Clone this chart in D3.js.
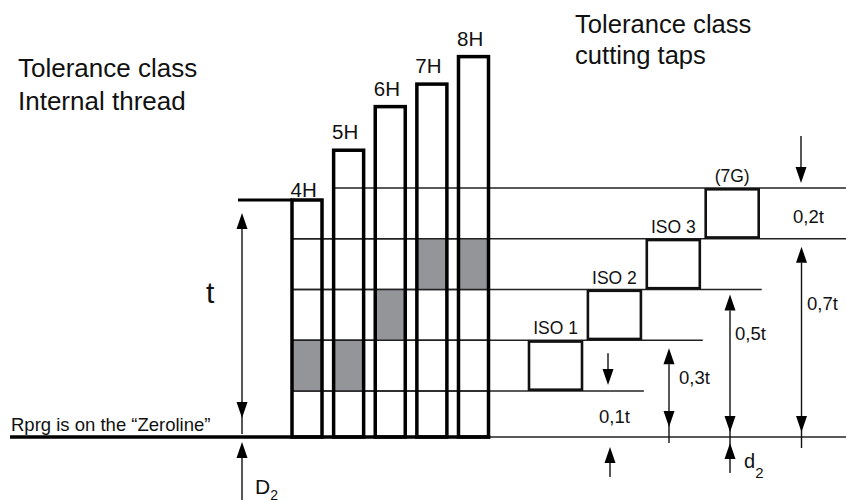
<!DOCTYPE html>
<html>
<head>
<meta charset="utf-8">
<script src="https://cdn.jsdelivr.net/npm/d3@7"></script>
<style>
  body { margin: 0; background: #fff; }
  text { font-family: "Liberation Sans", Arial, sans-serif; fill: #111; }
</style>
</head>
<body>
<div id="chart"></div>
<script>
// Internal thread classes, bar heights in units of t (4H = t)
const threadClasses = ["4H", "5H", "6H", "7H", "8H"];
const threadHeights = [1.0, 1.21, 1.394, 1.489, 1.605];
// tap class that each thread class is made with (shaded band)
const threadTap = ["ISO 1", "ISO 1", "ISO 2", "ISO 3", "ISO 3"];

// Cutting tap classes, tolerance band in units of t
const tapClasses = ["ISO 1", "ISO 2", "ISO 3", "(7G)"];
const tapLow = [0.1, 0.3, 0.5, 0.7];
const tapHigh = [0.3, 0.5, 0.7, 0.9];
const levels = [0.1, 0.3, 0.5, 0.7, 0.9];

// dimension labels
const dimLabels = ["0,1t", "0,3t", "0,5t", "0,7t", "0,2t"];

const width = 846;
const height = 502;

const svg = d3.select("#chart")
  .append("svg")
  .attr("width", width)
  .attr("height", height);

// Scales (drawing is schematic: thread side and tap side use own scales)
const yT = d3.scaleLinear().domain([0, 1]).range([437, 200]);
const y = d3.scaleLinear().domain([0, 0.1, 0.9]).range([437, 391, 188]);

const xB = d3.scaleBand()
  .domain(threadClasses)
  .range([292, 488.5])
  .paddingInner(0.279);

const xT = d3.scaleBand()
  .domain(tapClasses)
  .range([529, 758.7])
  .paddingInner(0.1);

// arrowhead helper
function arrow(x, yFrom, yTip, both) {
  const len = 16, half = 5.5;
  const dir = yTip < yFrom ? -1 : 1;
  const y1 = both ? yFrom - dir * len : yFrom;
  svg.append("line")
    .attr("x1", x).attr("x2", x)
    .attr("y1", y1).attr("y2", yTip - dir * len)
    .attr("stroke", "#111")
    .attr("stroke-width", 1.4);
  const heads = both ? [[yTip, dir], [yFrom, -dir]] : [[yTip, dir]];
  heads.forEach(([ty, d]) => {
    svg.append("path")
      .attr("d", `M${x},${ty} L${x - half},${ty - d * len} L${x + half},${ty - d * len} Z`)
      .attr("fill", "#000");
  });
}

// Horizontal level lines
levels.forEach((lv, i) => {
  const first = threadClasses.find((c, j) => yT(threadHeights[j]) < y(lv));
  const x2 = i + 1 < tapClasses.length
    ? xT(tapClasses[i + 1]) + xT.bandwidth() + 3
    : width;
  svg.append("line")
    .attr("x1", xB(first))
    .attr("x2", x2)
    .attr("y1", y(lv))
    .attr("y2", y(lv))
    .attr("stroke", "#222")
    .attr("stroke-width", 1.3);
});

// shaded bands in thread bars
threadClasses.forEach((c, i) => {
  const k = tapClasses.indexOf(threadTap[i]);
  svg.append("rect")
    .attr("x", xB(c))
    .attr("y", y(tapHigh[k]))
    .attr("width", xB.bandwidth())
    .attr("height", y(tapLow[k]) - y(tapHigh[k]))
    .attr("fill", "#939598");
});

// re-draw level lines over the shading
levels.filter(lv => lv < 0.8).forEach(lv => {
  svg.append("line")
    .attr("x1", xB.range()[0])
    .attr("x2", xB.range()[1])
    .attr("y1", y(lv))
    .attr("y2", y(lv))
    .attr("stroke", "#222")
    .attr("stroke-width", 1.3);
});

// Zeroline
svg.append("line")
  .attr("x1", xB.range()[1])
  .attr("x2", width)
  .attr("y1", yT(0)).attr("y2", yT(0))
  .attr("stroke", "#222")
  .attr("stroke-width", 1.5);
svg.append("line")
  .attr("x1", 10)
  .attr("x2", xB.range()[1] + 1.75)
  .attr("y1", yT(0)).attr("y2", yT(0))
  .attr("stroke", "#000")
  .attr("stroke-width", 3.5);

// t reference line
svg.append("line")
  .attr("x1", 238)
  .attr("x2", xB("4H"))
  .attr("y1", yT(1)).attr("y2", yT(1))
  .attr("stroke", "#000")
  .attr("stroke-width", 3);

// Thread bars
threadClasses.forEach((c, i) => {
  svg.append("rect")
    .attr("x", xB(c))
    .attr("y", yT(threadHeights[i]))
    .attr("width", xB.bandwidth())
    .attr("height", yT(0) - yT(threadHeights[i]))
    .attr("fill", "none")
    .attr("stroke", "#000")
    .attr("stroke-width", 3.5);

  svg.append("text")
    .attr("x", xB(c) - 1.5)
    .attr("y", yT(threadHeights[i]) - (i === 0 ? 3 : 11))
    .style("font-size", "20.5px")
    .text(c);
});

// Tap boxes
tapClasses.forEach((c, i) => {
  svg.append("rect")
    .attr("x", xT(c))
    .attr("y", y(tapHigh[i]) + 1.3)
    .attr("width", xT.bandwidth())
    .attr("height", y(tapLow[i]) - y(tapHigh[i]) - 2.6)
    .attr("fill", "#fff")
    .attr("stroke", "#111")
    .attr("stroke-width", 2.6);

  svg.append("text")
    .attr("x", xT(c) + xT.bandwidth() / 2)
    .attr("y", y(tapHigh[i]) - 6)
    .attr("text-anchor", "middle")
    .style("font-size", "17.5px")
    .text(c);
});

// Arrows
arrow(242, yT(0) - 19, yT(1) + 13, true);       // t
arrow(242, 500, yT(0) + 5, false);              // D2
arrow(608, y(0.3) + 13, y(0.1) - 6, false);     // ISO 1 down
arrow(610, 477, y(0) + 10, false);              // 0,1t up
arrow(669, y(0) - 10, y(0.3) + 8, true);        // 0,3t
arrow(730, y(0) - 5, y(0.5) + 5, true);         // 0,5t
arrow(730, 473, y(0) + 6, false);               // d2 up
arrow(801.5, y(0) - 5, y(0.7) + 8, true);       // 0,7t
arrow(801, 136, y(0.9) - 5, false);             // 0,2t down

// Dimension labels
const dimPos = [[599, 423], [679, 384], [735, 340], [807, 310], [793, 223]];
dimLabels.forEach((d, i) => {
  svg.append("text")
    .attr("x", dimPos[i][0])
    .attr("y", dimPos[i][1])
    .style("font-size", "18.5px")
    .text(d);
});

// Titles
const titleLeft = ["Tolerance class", "Internal thread"];
const titleRight = ["Tolerance class", "cutting taps"];
titleLeft.forEach((t, i) => {
  svg.append("text")
    .attr("x", 18).attr("y", 77 + i * 33.3)
    .style("font-size", "26px")
    .text(t);
});
titleRight.forEach((t, i) => {
  svg.append("text")
    .attr("x", 575).attr("y", 33 + i * 30.5)
    .style("font-size", "25.6px")
    .text(t);
});

// other labels
svg.append("text")
  .attr("x", 206).attr("y", 303)
  .style("font-size", "30px")
  .text("t");

svg.append("text")
  .attr("x", 11).attr("y", 431)
  .style("font-size", "18.5px")
  .text("Rprg is on the \u201CZeroline\u201D");

const d2 = svg.append("text").attr("x", 744).attr("y", 468).style("font-size", "20px");
d2.append("tspan").text("d");
d2.append("tspan").attr("dy", 10).style("font-size", "15px").text("2");

const D2 = svg.append("text").attr("x", 255).attr("y", 494).style("font-size", "21px");
D2.append("tspan").text("D");
D2.append("tspan").attr("dy", 6).style("font-size", "14px").text("2");
</script>
</body>
</html>
